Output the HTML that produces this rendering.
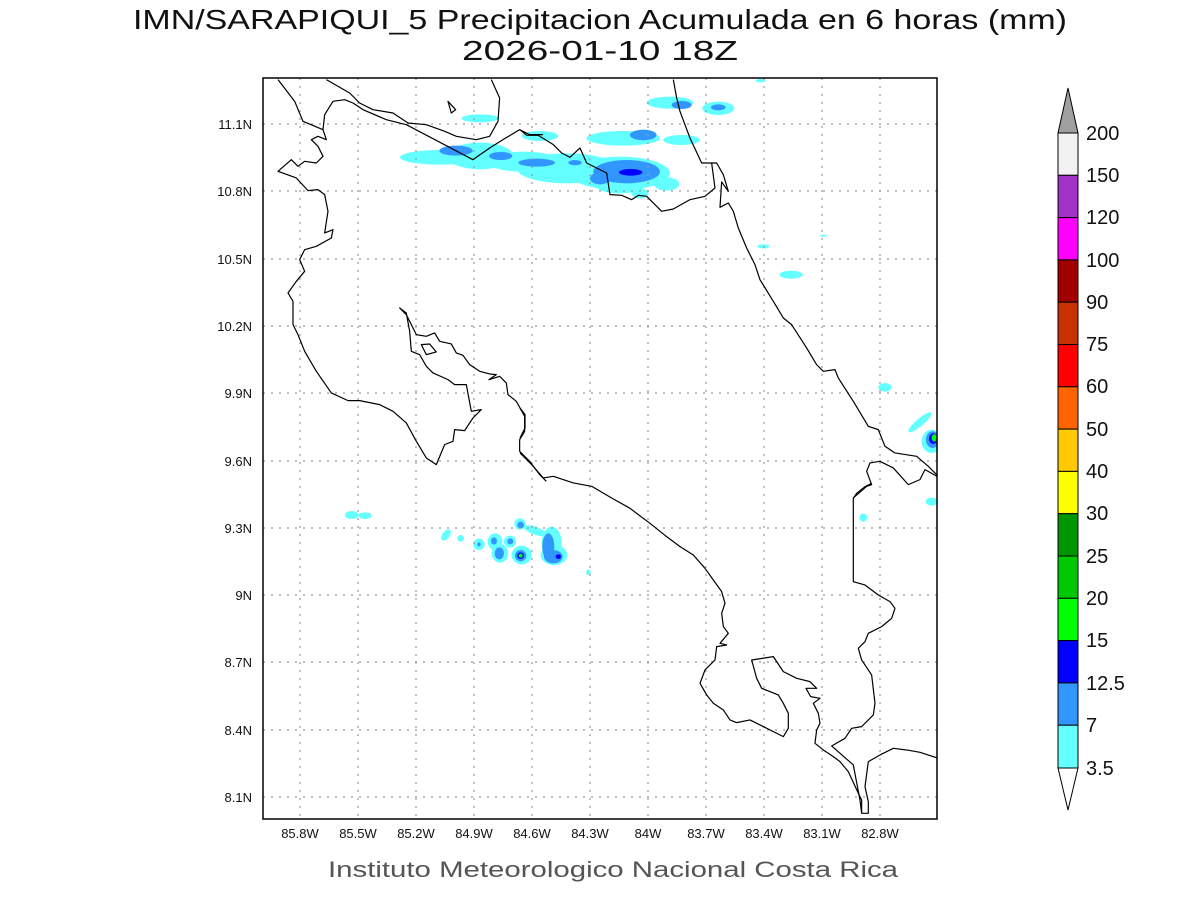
<!DOCTYPE html>
<html><head><meta charset="utf-8"><style>html,body{margin:0;padding:0;background:#fff}svg{display:block}</style></head>
<body>
<svg width="1200" height="900" viewBox="0 0 1200 900" xmlns="http://www.w3.org/2000/svg" font-family="Liberation Sans, sans-serif">
<rect width="1200" height="900" fill="#fff"/>
<text x="600" y="29" font-size="28" text-anchor="middle" textLength="934" lengthAdjust="spacingAndGlyphs" fill="#111">IMN/SARAPIQUI_5 Precipitacion Acumulada en 6 horas (mm)</text>
<text x="600" y="60" font-size="28" text-anchor="middle" textLength="276" lengthAdjust="spacingAndGlyphs" fill="#111">2026-01-10 18Z</text>

<clipPath id="c"><rect x="263" y="78" width="674" height="741"/></clipPath>
<g clip-path="url(#c)">
<!-- precip main cluster (zoom2 coords) -->
<g transform="translate(380,80) scale(0.3333)">
<g fill="#64ffff">
<ellipse cx="300" cy="115" rx="55" ry="12"/>
<ellipse cx="180" cy="232" rx="120" ry="22"/>
<ellipse cx="300" cy="228" rx="100" ry="40"/>
<ellipse cx="430" cy="245" rx="110" ry="30"/>
<ellipse cx="560" cy="265" rx="150" ry="45"/>
<ellipse cx="720" cy="280" rx="150" ry="50"/>
<ellipse cx="720" cy="320" rx="70" ry="20"/>
<ellipse cx="480" cy="168" rx="55" ry="15"/>
<ellipse cx="730" cy="175" rx="110" ry="22"/>
<ellipse cx="860" cy="312" rx="38" ry="20"/>
<ellipse cx="905" cy="180" rx="55" ry="15"/>
<ellipse cx="870" cy="68" rx="70" ry="18"/>
<ellipse cx="1015" cy="85" rx="48" ry="20"/>
<ellipse cx="780" cy="340" rx="25" ry="15"/>
</g>
<g fill="#3296ff">
<ellipse cx="228" cy="212" rx="50" ry="15"/>
<ellipse cx="362" cy="228" rx="35" ry="12"/>
<ellipse cx="470" cy="248" rx="55" ry="12"/>
<ellipse cx="585" cy="248" rx="20" ry="8"/>
<ellipse cx="740" cy="275" rx="100" ry="35"/>
<ellipse cx="660" cy="295" rx="30" ry="18"/>
<ellipse cx="790" cy="165" rx="40" ry="16"/>
<ellipse cx="905" cy="75" rx="30" ry="12"/>
<ellipse cx="1015" cy="82" rx="22" ry="9"/>
</g>
<ellipse cx="752" cy="277" rx="35" ry="10" fill="#0000ff"/>
</g>
<!-- precip zoom5 coords -->
<g transform="translate(520,78) scale(0.3333)">
<g fill="#64ffff">
<ellipse cx="730" cy="505" rx="18" ry="6"/>
<ellipse cx="813" cy="590" rx="35" ry="12"/>
<ellipse cx="1095" cy="928" rx="20" ry="13"/>
<ellipse cx="1200" cy="1033" rx="45" ry="11" transform="rotate(-40 1200 1033)"/>
<ellipse cx="1235" cy="1090" rx="30" ry="35"/>
<ellipse cx="910" cy="473" rx="10" ry="3"/>
<ellipse cx="722" cy="8" rx="15" ry="5"/>
</g>
<ellipse cx="1238" cy="1085" rx="20" ry="25" fill="#3296ff"/>
<ellipse cx="1240" cy="1082" rx="13" ry="16" fill="#0000ff"/>
<ellipse cx="1243" cy="1080" rx="8" ry="11" fill="#00ff00"/>
</g>
<g transform="translate(680,440) scale(0.3333)" fill="#64ffff">
<ellipse cx="550" cy="233" rx="12" ry="12"/>
<ellipse cx="755" cy="185" rx="18" ry="12"/>
</g>
<!-- southern blobs (zoom6) -->
<g transform="translate(330,500) scale(0.3333)">
<g fill="#64ffff">
<ellipse cx="65" cy="45" rx="20" ry="12"/>
<ellipse cx="105" cy="47" rx="20" ry="10"/>
<ellipse cx="348" cy="105" rx="11" ry="19" transform="rotate(35 348 105)"/>
<ellipse cx="392" cy="115" rx="10" ry="10"/>
<ellipse cx="447" cy="133" rx="17" ry="17"/>
<ellipse cx="495" cy="125" rx="22" ry="25"/>
<ellipse cx="510" cy="160" rx="25" ry="28"/>
<ellipse cx="540" cy="125" rx="18" ry="18"/>
<ellipse cx="575" cy="165" rx="30" ry="28"/>
<ellipse cx="570" cy="72" rx="17" ry="17"/>
<ellipse cx="615" cy="92" rx="35" ry="12" transform="rotate(20 615 92)"/>
<ellipse cx="665" cy="130" rx="30" ry="50"/>
<ellipse cx="672" cy="165" rx="40" ry="30"/>
<ellipse cx="775" cy="217" rx="7" ry="8"/>
</g>
<g fill="#3296ff">
<ellipse cx="572" cy="75" rx="10" ry="10"/>
<ellipse cx="492" cy="123" rx="9" ry="11"/>
<ellipse cx="508" cy="160" rx="14" ry="18"/>
<ellipse cx="541" cy="124" rx="9" ry="9"/>
<ellipse cx="447" cy="133" rx="5" ry="6"/>
<ellipse cx="572" cy="167" rx="17" ry="17"/>
<ellipse cx="655" cy="140" rx="18" ry="40"/>
<ellipse cx="670" cy="170" rx="28" ry="20"/>
</g>
<ellipse cx="572" cy="167" rx="10" ry="10" fill="#0000ff"/>
<ellipse cx="572" cy="167" rx="6" ry="6" fill="#00ff00"/>
<ellipse cx="685" cy="170" rx="8" ry="7" fill="#0000ff"/>
</g>

<!-- grid -->
<g stroke="#999" stroke-width="1.2" stroke-dasharray="2,6">
<line x1="300" y1="78" x2="300" y2="819"/><line x1="358" y1="78" x2="358" y2="819"/><line x1="416" y1="78" x2="416" y2="819"/><line x1="474" y1="78" x2="474" y2="819"/><line x1="532" y1="78" x2="532" y2="819"/><line x1="590" y1="78" x2="590" y2="819"/><line x1="648" y1="78" x2="648" y2="819"/><line x1="706" y1="78" x2="706" y2="819"/><line x1="764" y1="78" x2="764" y2="819"/><line x1="822" y1="78" x2="822" y2="819"/><line x1="880" y1="78" x2="880" y2="819"/>
<line x1="263" y1="124" x2="937" y2="124"/><line x1="263" y1="191" x2="937" y2="191"/><line x1="263" y1="259" x2="937" y2="259"/><line x1="263" y1="326" x2="937" y2="326"/><line x1="263" y1="393" x2="937" y2="393"/><line x1="263" y1="461" x2="937" y2="461"/><line x1="263" y1="528" x2="937" y2="528"/><line x1="263" y1="595" x2="937" y2="595"/><line x1="263" y1="662" x2="937" y2="662"/><line x1="263" y1="730" x2="937" y2="730"/><line x1="263" y1="797" x2="937" y2="797"/>
</g>

<!-- coastlines -->
<g fill="none" stroke="#000" stroke-width="3.6" stroke-linejoin="round" transform="translate(263,78) scale(0.3333)">
<path d="M45,5 L95,70 120,130 180,155 190,185 165,175 145,185 165,205 180,235 160,255 125,250 105,265 85,245 45,280 100,300 135,338 165,335 185,350 195,400 185,465 210,455 205,480 160,505 125,515 110,545 125,580 100,610 75,645 90,670 90,740 105,770 125,820 160,880 205,945 255,968 290,968 350,980 390,1000 430,1035 460,1090 490,1140 520,1160 545,1100 570,1090 575,1055 605,1058 630,1020 655,995 625,1000 610,920 575,920 555,905 510,885 490,865 470,830 445,820 440,760 430,705 410,690 430,710 460,770 490,775 515,765 530,790 565,798 580,825 600,832 620,860 650,880 680,888 700,890 678,905 710,895 730,915 735,950 760,970 785,1015 785,1060 770,1085 770,1120 800,1150 830,1190 850,1210"/>
<path d="M180,155 L185,110 210,70 245,65 270,75 300,95 370,125 430,140 630,245 680,210 720,185 770,155 800,170 840,170"/>
<path d="M190,5 L260,45 290,75 330,95 390,105 435,135 490,140 545,160 580,175 640,185 680,175 705,130 710,60 685,5"/>
<path d="M555,70 L565,105 578,95 Z"/>
<path d="M475,800 L500,798 520,822 490,830 Z"/>
</g>
<g fill="none" stroke="#000" stroke-width="3.6" stroke-linejoin="round" transform="translate(520,78) scale(0.3333)">
<path d="M0,155 L20,172 55,172 100,200 125,225 150,238 180,210 200,255 260,285 270,350 305,352 335,365 355,352 380,355 425,400 460,393 510,365 555,355 585,330 575,255 590,255 610,290 625,340 605,312 600,388 625,375 640,400 655,450 680,510 705,560 720,605 760,670 790,720 815,740 860,810 890,860 910,880 945,875 955,900 1000,970 1045,1045 1075,1055 1095,1105 1125,1125 1190,1135 1225,1165 1260,1200"/>
<path d="M460,5 L470,60 480,100 510,180 545,255 575,255"/>
<path d="M1260,1200 L1215,1175 1200,1205 1165,1220 1120,1170 1080,1150 1050,1155 1040,1180 1055,1220 1040,1225 1000,1260"/>
<path d="M0,990 L15,1010 15,1050 0,1080"/>
<path d="M0,1125 L35,1160 70,1200 100,1195 160,1215 215,1225 275,1260"/>
</g>
<g fill="none" stroke="#000" stroke-width="3.6" stroke-linejoin="round" transform="translate(680,440) scale(0.3333)">
<path d="M-205,174 L-150,205 -90,250 -40,290 0,320 40,345 75,385 100,420 125,455 135,490 125,520 130,560 145,580 120,610 140,615 110,620 105,660 75,690 60,730 80,765 100,790 130,810 150,840 170,848 210,840 310,890 325,865 325,820 310,790 295,765 245,745 230,715 215,660 280,650 310,695 350,715 390,725 410,745 378,745 392,770 420,775 400,790 415,820 420,850 410,870 405,910 430,930 460,950 480,965 505,995 535,1060 545,1080 545,1120 565,1120 565,1085 555,1040 565,965 600,945 640,925 680,930 720,937 775,955"/>
<path d="M575,130 L555,140 530,160 520,175 520,425 555,435 595,465 630,485 645,505 635,535 605,560 565,580 555,605 535,625 545,660 575,705 585,790 580,825 545,860 515,865 495,895 455,918 520,975 540,1080 545,1120"/>
</g>
</g>
<rect x="263" y="78" width="674" height="741" fill="none" stroke="#000" stroke-width="1.5"/>

<!-- axis labels -->
<g font-size="13" fill="#111" text-anchor="middle">
<text x="300" y="838">85.8W</text><text x="358" y="838">85.5W</text><text x="416" y="838">85.2W</text><text x="474" y="838">84.9W</text><text x="532" y="838">84.6W</text><text x="590" y="838">84.3W</text><text x="648" y="838">84W</text><text x="706" y="838">83.7W</text><text x="764" y="838">83.4W</text><text x="822" y="838">83.1W</text><text x="880" y="838">82.8W</text>
</g>
<g font-size="13" fill="#111" text-anchor="end">
<text x="252" y="129">11.1N</text><text x="252" y="196">10.8N</text><text x="252" y="264">10.5N</text><text x="252" y="331">10.2N</text><text x="252" y="398">9.9N</text><text x="252" y="466">9.6N</text><text x="252" y="533">9.3N</text><text x="252" y="600">9N</text><text x="252" y="667">8.7N</text><text x="252" y="735">8.4N</text><text x="252" y="802">8.1N</text>
</g>
<text x="613" y="877" font-size="22" fill="#555" text-anchor="middle" textLength="570" lengthAdjust="spacingAndGlyphs">Instituto Meteorologico Nacional Costa Rica</text>

<!-- colorbar -->
<g stroke="#000" stroke-width="1">
<polygon points="1058,133 1078,133 1068,88" fill="#a0a0a0"/>
<rect x="1058" y="133" width="20" height="42.3" fill="#f2f2f2"/>
<rect x="1058" y="175.3" width="20" height="42.3" fill="#a032c8"/>
<rect x="1058" y="217.6" width="20" height="42.3" fill="#ff00ff"/>
<rect x="1058" y="259.9" width="20" height="42.3" fill="#a00000"/>
<rect x="1058" y="302.2" width="20" height="42.3" fill="#c83200"/>
<rect x="1058" y="344.5" width="20" height="42.3" fill="#ff0000"/>
<rect x="1058" y="386.8" width="20" height="42.3" fill="#ff6400"/>
<rect x="1058" y="429.1" width="20" height="42.3" fill="#ffc800"/>
<rect x="1058" y="471.4" width="20" height="42.3" fill="#ffff00"/>
<rect x="1058" y="513.7" width="20" height="42.3" fill="#009600"/>
<rect x="1058" y="556" width="20" height="42.3" fill="#00c800"/>
<rect x="1058" y="598.3" width="20" height="42.3" fill="#00ff00"/>
<rect x="1058" y="640.6" width="20" height="42.3" fill="#0000ff"/>
<rect x="1058" y="682.9" width="20" height="42.3" fill="#3296ff"/>
<rect x="1058" y="725.2" width="20" height="42.8" fill="#64ffff"/>
<polygon points="1058,768 1078,768 1068,810" fill="#fff"/>
</g>
<g font-size="20" fill="#111">
<text x="1086" y="140">200</text><text x="1086" y="182">150</text><text x="1086" y="224">120</text><text x="1086" y="267">100</text><text x="1086" y="309">90</text><text x="1086" y="351">75</text><text x="1086" y="393">60</text><text x="1086" y="436">50</text><text x="1086" y="478">40</text><text x="1086" y="520">30</text><text x="1086" y="563">25</text><text x="1086" y="605">20</text><text x="1086" y="647">15</text><text x="1086" y="690">12.5</text><text x="1086" y="732">7</text><text x="1086" y="775">3.5</text>
</g>
</svg>
</body></html>
